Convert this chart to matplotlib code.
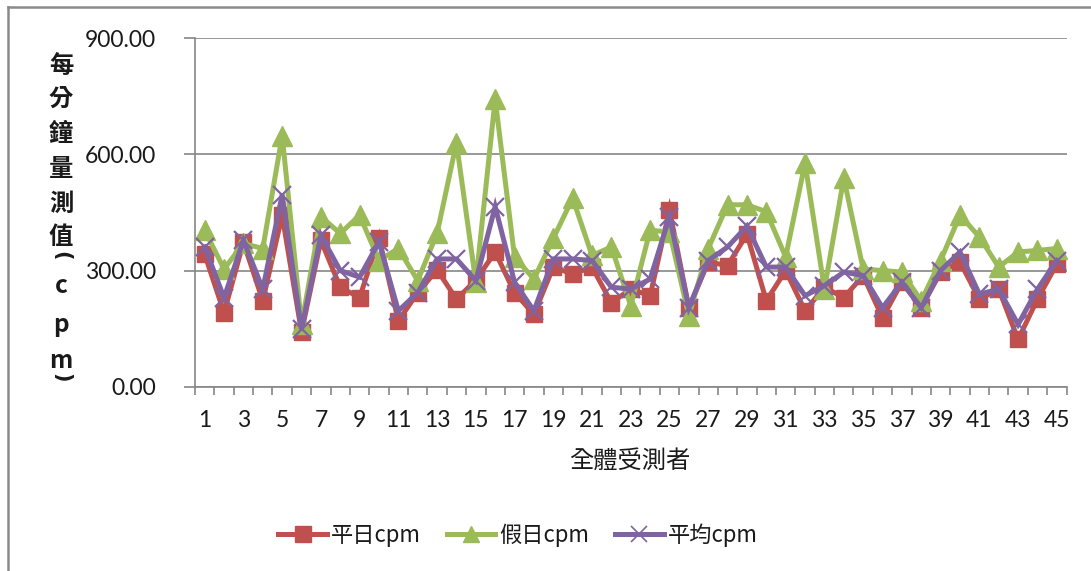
import matplotlib
matplotlib.use("Agg")
import matplotlib.pyplot as plt
from matplotlib.lines import Line2D
import numpy as np

plt.rcParams['font.family'] = ['Lato', 'Noto Sans CJK TC', 'DejaVu Sans']

# 受測者編號
subjects = list(range(1, 46))

# 平日 / 假日 / 平均 每分鐘量測值 (cpm)
weekday_cpm = [342, 191, 373, 222, 443, 141, 378, 257, 230, 385, 170, 243, 302, 226, 275,
               348, 243, 187, 309, 291, 309, 217, 252, 235, 457, 204, 322, 313, 394,
               222, 300, 196, 257, 230, 287, 178, 270, 204, 296, 322, 226, 252, 122, 226, 317]
holiday_cpm = [404, 304, 370, 357, 648, 161, 439, 396, 443, 326, 357, 274, 396, 630, 270,
               743, 335, 278, 383, 487, 339, 361, 209, 404, 400, 183, 357, 470, 470,
               452, 335, 578, 252, 539, 304, 300, 296, 222, 326, 443, 387, 309, 348, 352, 357]
average_cpm = [361, 230, 378, 252, 496, 148, 391, 300, 283, 374, 196, 243, 330, 330, 274,
               465, 270, 196, 330, 330, 326, 257, 252, 278, 439, 204, 326, 361, 415,
               309, 309, 235, 261, 296, 287, 204, 270, 204, 300, 348, 239, 252, 161, 252, 326]

series_labels = ['平日cpm', '假日cpm', '平均cpm']
y_ticks = [0, 300, 600, 900]
x_label = '全體受測者'
y_label_chars = ['每', '分', '鐘', '量', '測', '值', '(', 'c', 'p', 'm', ')']

RED = '#C0504D'
GREEN = '#9BBB59'
PURPLE = '#8064A2'
GRID = '#868686'
TEXT = '#1a1a1a'

W, H = 1091, 571
fig = plt.figure(figsize=(W / 100, H / 100), dpi=100)
ax = fig.add_axes([195 / W, 1 - 386.7 / H, (1066.5 - 195) / W, (386.7 - 38.3) / H])

ax.plot(subjects, weekday_cpm, color=RED, lw=3.6, marker='s', ms=12,
        mfc=RED, mec=RED, zorder=3, solid_joinstyle='miter')
ax.plot(subjects, holiday_cpm, color=GREEN, lw=3.6, marker='^', ms=14,
        mfc=GREEN, mec=GREEN, zorder=4, solid_joinstyle='miter')
ax.plot(subjects, average_cpm, color=PURPLE, lw=3.6, marker='x', ms=13,
        mew=1.6, mec=PURPLE, zorder=5, solid_joinstyle='miter')

ax.set_xlim(0.5, 45.5)
ax.set_ylim(0, 900)

# y axis
ax.set_yticks(y_ticks)
ax.set_yticklabels([f'{v:.2f}' for v in y_ticks])
ax.yaxis.grid(True, color=GRID, lw=1.2)
ax.set_axisbelow(True)
ax.tick_params(axis='y', direction='out', length=8, width=1.2, color=GRID,
               labelsize=16.5, pad=20, labelcolor=TEXT)

# x axis: labels on odd subjects, tick marks between categories
ax.set_xticks(subjects[::2])
ax.set_xticklabels([str(s) for s in subjects[::2]])
ax.set_xticks(np.arange(0.5, 46, 1.0), minor=True)
ax.tick_params(axis='x', which='major', length=0, labelsize=16.5, pad=17,
               labelcolor=TEXT)
ax.tick_params(axis='x', which='minor', direction='out', length=6, width=1.2,
               color=GRID)

for side in ('top', 'right'):
    ax.spines[side].set_visible(False)
for side in ('left', 'bottom'):
    ax.spines[side].set_color(GRID)
    ax.spines[side].set_linewidth(1.2)

# axis titles
fig.text(630 / W, 1 - 461 / H, x_label, ha='center', va='center', fontsize=17.5,
         family=['Noto Sans CJK TC'], color=TEXT)

# stacked vertical y title; brackets turned to read vertically
y_positions = [66, 99, 134, 169, 204, 237, 256, 286, 325, 361, 378]
for ch, yp in zip(y_label_chars, y_positions):
    if ch in '()':
        fig.text(61 / W, 1 - yp / H, ch, ha='center', va='center', fontsize=15,
                 fontweight='bold', family=['DejaVu Sans'], rotation=-90,
                 rotation_mode='anchor', color=TEXT)
    else:
        fig.text(61 / W, 1 - yp / H, ch, ha='center', va='center', fontsize=17.5,
                 fontweight='bold', family=['Noto Sans CJK TC'], color=TEXT)

# legend
handles = [
    Line2D([], [], color=RED, lw=3.6, marker='s', ms=12),
    Line2D([], [], color=GREEN, lw=3.6, marker='^', ms=12),
    Line2D([], [], color=PURPLE, lw=3.6, marker='x', ms=12, mew=1.2),
]
leg = fig.legend(handles, series_labels, loc='center', bbox_to_anchor=(518 / W, 1 - 535 / H),
                 ncol=3, frameon=False, handlelength=2.2, handletextpad=0.18,
                 columnspacing=1.15, prop={'family': ['Noto Sans CJK TC'], 'size': 16})
for t in leg.get_texts():
    t.set_color(TEXT)

# outer chart border
fig.add_artist(Line2D([8 / W, 1], [1 - 7 / H, 1 - 7 / H], color='#8a8a8a', lw=1.8,
                      transform=fig.transFigure))
fig.add_artist(Line2D([8 / W, 8 / W], [0, 1 - 7 / H], color='#8a8a8a', lw=1.8,
                      transform=fig.transFigure))

fig.savefig('out.png', dpi=100)
